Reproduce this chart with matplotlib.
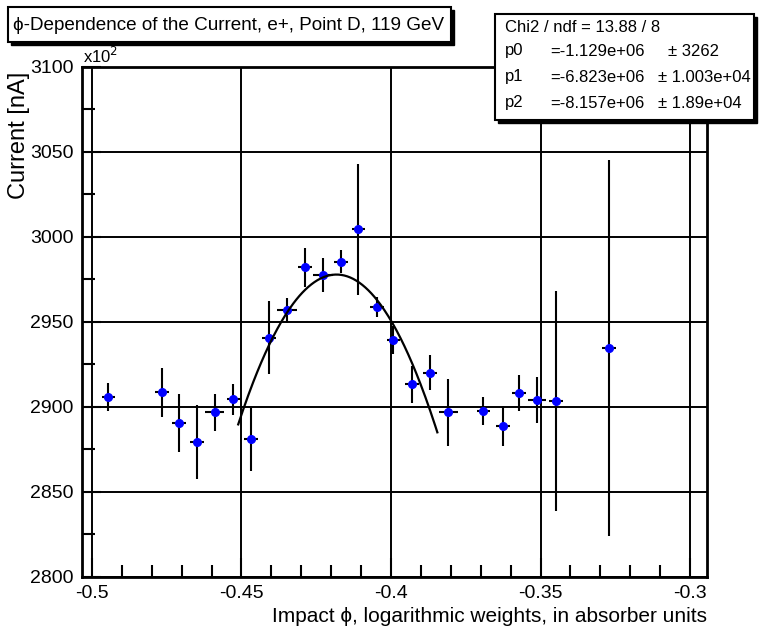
import numpy as np
import matplotlib
matplotlib.use('Agg')
import matplotlib.pyplot as plt
from matplotlib.patches import Rectangle
from matplotlib.ticker import MultipleLocator, FuncFormatter

plt.rcParams['font.family'] = ['Liberation Sans', 'DejaVu Sans']

# measured points (impact phi, current in units of 100 nA)
phi = [-0.4945, -0.4767, -0.4708, -0.4650, -0.4589, -0.4527, -0.4468, -0.4407,
       -0.4349, -0.4287, -0.4228, -0.4168, -0.4109, -0.4048, -0.3992, -0.3931,
       -0.3870, -0.3808, -0.3691, -0.3626, -0.3571, -0.3513, -0.3448, -0.3270]
current = [2905.7, 2908.6, 2890.8, 2879.6, 2896.9, 2904.5, 2881.0, 2940.8,
           2957.0, 2982.2, 2977.6, 2985.5, 3004.5, 2959.0, 2939.4, 2913.3,
           2920.2, 2896.9, 2897.8, 2888.8, 2908.0, 2904.1, 2903.5, 2934.5]
current_err = [8.3, 14.5, 17.0, 21.7, 10.8, 9.0, 18.6, 21.3,
               7.3, 11.5, 9.8, 6.9, 38.7, 5.9, 8.5, 10.8,
               10.3, 19.6, 8.1, 11.6, 10.6, 13.5, 64.5, 110.6]
phi_err = [0.0023, 0.0023, 0.0023, 0.0023, 0.0032, 0.0023, 0.0023, 0.0023,
           0.0033, 0.0023, 0.0033, 0.0023, 0.0023, 0.0023, 0.0023, 0.0023,
           0.0023, 0.0032, 0.0023, 0.0023, 0.0023, 0.0030, 0.0023, 0.0023]

# pol2 fit parameters from the stats box
fit_names = ['p0', 'p1', 'p2']
fit_vals = [-1.129e6, -6.823e6, -8.157e6]
fit_errs = ['3262', '1.003e+04', '1.89e+04']
fit_range = [-0.4511, -0.3845]

W, H = 763, 633
fig = plt.figure(figsize=(W / 100, H / 100), dpi=100)

# frame in pixels: left 82, right 707, top 67, bottom 577
ax = fig.add_axes([82 / W, 1 - 577 / H, (707 - 82) / W, (577 - 67) / H])
ax.set_xlim(-0.5 - 10 / 2990, -0.3 + 17 / 2990)
ax.set_ylim(2800, 3100)

ax.xaxis.set_major_locator(MultipleLocator(0.05))
ax.xaxis.set_minor_locator(MultipleLocator(0.01))
ax.yaxis.set_major_locator(MultipleLocator(50))
ax.yaxis.set_minor_locator(MultipleLocator(25))
ax.tick_params(which='both', direction='in', top=False, right=False, width=1.5, color='black')
ax.tick_params(which='major', length=14, labelsize=14, pad=6)
ax.tick_params(which='minor', length=9)
ax.xaxis.set_major_formatter(FuncFormatter(lambda v, p: '%g' % round(v, 3)))
ax.yaxis.set_major_formatter(FuncFormatter(lambda v, p: '%d' % v))
ax.grid(True, which='major', color='black', linewidth=1.4)
for s in ax.spines.values():
    s.set_linewidth(2)

ax.errorbar(phi, current, yerr=current_err, xerr=phi_err, fmt='o', color='#0000ff',
            markersize=5.5, ecolor='black', elinewidth=1.5, capsize=0, zorder=3)

xf = np.linspace(fit_range[0], fit_range[1], 200)
yf = (fit_vals[0] + fit_vals[1] * xf + fit_vals[2] * xf ** 2) / 100.0
ax.plot(xf, yf, color='black', linewidth=1.6, zorder=4)

ax.set_xlabel(u'Impact \u03d5, logarithmic weights, in absorber units', fontsize=15)
ax.xaxis.set_label_coords(1.0, -0.058)
ax.xaxis.label.set_horizontalalignment('right')
ax.set_ylabel('Current [nA]', fontsize=17)
ax.yaxis.set_label_coords(-0.083, 0.865)

fig.text(83 / W, 1 - 63 / H, u'x10$^{2}$', fontsize=12, ha='left', va='baseline')

# title box with shadow
fig.patches.append(Rectangle((11 / W, 1 - 45 / H), 443 / W, 35 / H, transform=fig.transFigure,
                             facecolor='black', edgecolor='black', zorder=5))
fig.patches.append(Rectangle((8 / W, 1 - 42 / H), 443 / W, 35 / H, transform=fig.transFigure,
                             facecolor='white', edgecolor='black', linewidth=1.5, zorder=6))
fig.text(13 / W, 1 - 25 / H, u'\u03d5-Dependence of the Current, e+, Point D, 119 GeV',
         fontsize=13.6, ha='left', va='center', zorder=7)

# stats box with shadow
fig.patches.append(Rectangle((498 / W, 1 - 123 / H), 259 / W, 106 / H, transform=fig.transFigure,
                             facecolor='black', edgecolor='black', zorder=5))
fig.patches.append(Rectangle((495 / W, 1 - 120 / H), 259 / W, 106 / H, transform=fig.transFigure,
                             facecolor='white', edgecolor='black', linewidth=1.5, zorder=6))
fig.text(505 / W, 1 - 28 / H, 'Chi2 / ndf = 13.88 / 8', fontsize=12, ha='left', va='center', zorder=7)
rows_y = [51, 77, 103]
for name, val, err, ry in zip(fit_names, fit_vals, fit_errs, rows_y):
    mant, ex = ('%.3e' % val).split('e')
    val_txt = '%se+%02d' % (mant, int(ex))
    fig.text(505 / W, 1 - ry / H, name, fontsize=12, ha='left', va='center', zorder=7)
    fig.text(550 / W, 1 - ry / H, '=' + val_txt, fontsize=12, ha='left', va='center', zorder=7)
    ex_x = 668 if name == 'p0' else 658
    fig.text(ex_x / W, 1 - ry / H, u'\u00b1 ' + err, fontsize=12, ha='left', va='center', zorder=7)

fig.savefig('out.png', dpi=100)
